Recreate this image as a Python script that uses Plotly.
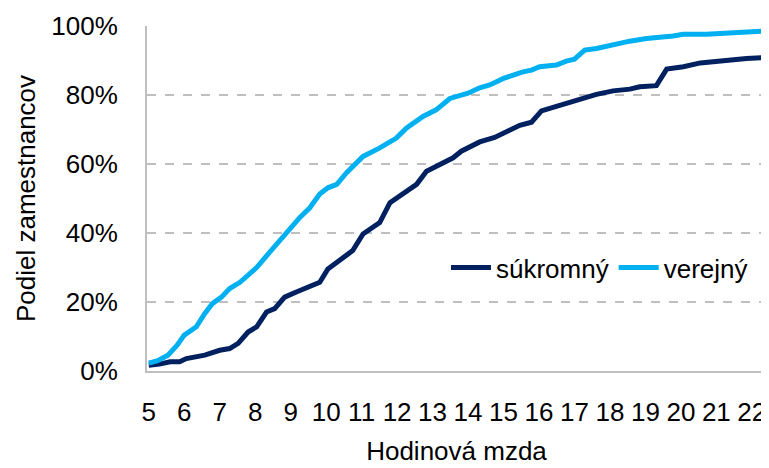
import plotly.graph_objects as go

# súkromný (private sector)
x_sukromny = [5.0, 5.3, 5.6, 5.87, 6.06, 6.58, 7.0, 7.28, 7.52, 7.8, 8.04, 8.32, 8.55, 8.83, 9.16,
              9.54, 9.82, 10.05, 10.29, 10.57, 10.75, 11.04, 11.51, 11.8, 12.16, 12.55, 12.83,
              13.2, 13.58, 13.81, 14.33, 14.75, 15.08, 15.46, 15.79, 16.07, 16.49, 17.24, 17.62,
              18.09, 18.56, 18.84, 19.31, 19.6, 20.07, 20.55, 21.2, 21.85, 22.32]
y_sukromny = [1.7, 2.0, 2.7, 2.7, 3.6, 4.6, 6.0, 6.5, 8.0, 11.3, 12.8, 17.1, 18.1, 21.4, 22.9,
              24.3, 25.7, 29.6, 31.5, 33.4, 34.9, 39.7, 43.0, 48.8, 51.2, 54.1, 57.9,
              59.8, 61.8, 63.7, 66.4, 67.7, 69.5, 71.2, 72.1, 75.4, 76.7, 78.9, 80.2,
              81.2, 81.7, 82.4, 82.7, 87.5, 88.2, 89.3, 90.1, 90.6, 90.8]

# verejný (public sector)
x_verejny = [5.0, 5.25, 5.54, 5.8, 6.0, 6.34, 6.58, 6.8, 7.05, 7.28, 7.57, 8.04, 8.32, 8.79, 9.26,
             9.54, 9.82, 10.05, 10.3, 10.57, 11.04, 11.5, 11.98, 12.26, 12.73, 13.1, 13.49, 14.0,
             14.33, 14.61, 15.0, 15.55, 15.79, 16.02, 16.49, 16.77, 17.0, 17.29, 17.62, 18.56,
             19.03, 19.78, 20.07, 20.72, 21.66, 22.32]
y_verejny = [2.3, 3.0, 4.6, 7.5, 10.4, 12.8, 16.7, 19.6, 21.4, 23.9, 25.7, 30.0, 33.4, 39.2, 44.5,
             47.3, 51.3, 53.1, 54.1, 57.4, 62.2, 64.6, 67.5, 70.4, 73.8, 75.7, 79.0, 80.5,
             82.1, 82.9, 84.8, 86.7, 87.2, 88.2, 88.7, 89.8, 90.4, 93.0, 93.5, 95.6,
             96.4, 97.1, 97.6, 97.6, 98.0, 98.5]

x_ticks = list(range(5, 23))
y_ticks = [0, 20, 40, 60, 80, 100]
y_ticklabels = ["0%", "20%", "40%", "60%", "80%", "100%"]

FONT = "Liberation Sans Narrow, Arial Narrow, Liberation Sans, Arial, sans-serif"

fig = go.Figure()
fig.add_trace(go.Scatter(x=x_sukromny, y=y_sukromny, mode="lines", name="súkromný",
                         line=dict(color="#002060", width=5)))
fig.add_trace(go.Scatter(x=x_verejny, y=y_verejny, mode="lines", name="verejný",
                         line=dict(color="#00B0F0", width=5)))

# page body has an 8px margin, so the figure is sized to fit the window exactly
fig.update_layout(
    width=761, height=460,
    margin=dict(l=139, r=3, t=16, b=97),
    paper_bgcolor="white", plot_bgcolor="white",
    font=dict(family=FONT, size=26, color="black"),
    showlegend=True,
    legend=dict(orientation="h", x=0.483, y=0.30, xanchor="left", yanchor="middle",
                font=dict(family=FONT, size=26), bgcolor="rgba(0,0,0,0)",
                itemwidth=40, tracegroupgap=0),
)
fig.update_xaxes(
    range=[4.95, 22.4], tickmode="array", tickvals=x_ticks, ticktext=[str(v) for v in x_ticks],
    showgrid=False, zeroline=False, showline=True, linecolor="#BFBFBF", linewidth=2,
    ticks="", ticklabelstandoff=17,
    title=dict(text="Hodinová mzda", standoff=16, font=dict(family=FONT, size=26)),
)
fig.update_yaxes(
    range=[0, 100], tickmode="array", tickvals=y_ticks, ticktext=y_ticklabels,
    showgrid=True, gridcolor="#BFBFBF", griddash="dash", gridwidth=1.5,
    zeroline=False, showline=True, linecolor="#BFBFBF", linewidth=2,
    ticks="", ticklabelstandoff=22,
    title=dict(text="Podiel zamestnancov", standoff=8, font=dict(family=FONT, size=26)),
)

fig.write_html("out.html")
